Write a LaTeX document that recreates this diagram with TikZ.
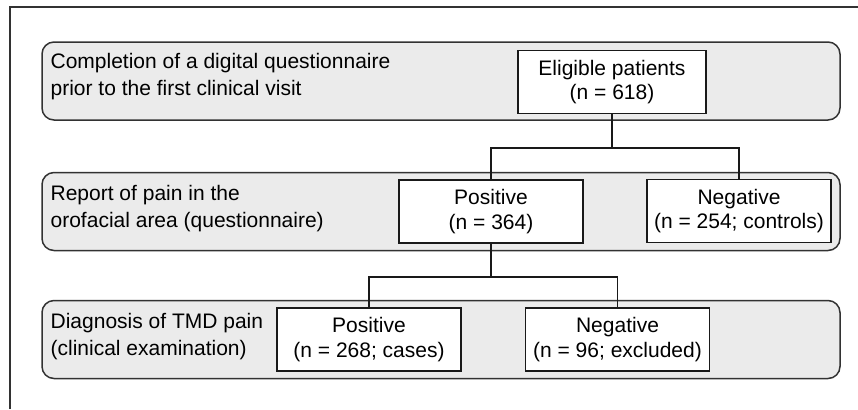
\documentclass[tikz,border=0pt]{standalone}
\usepackage{fontspec}
\setmainfont{Liberation Sans}
\usepackage{xcolor}
\definecolor{bandfill}{RGB}{235,235,235}
\definecolor{bandline}{RGB}{50,50,50}
\definecolor{inkline}{RGB}{25,25,25}

\begin{document}
\begin{tikzpicture}[x=0.5pt,y=-0.5pt,
  band/.style={draw=bandline,fill=bandfill,line width=0.75pt,rounded corners=6pt,
    minimum width=399pt,minimum height=39pt,inner sep=0pt},
  rowlbl/.style={anchor=west,align=left,inner sep=0pt,
    font=\fontsize{10.5}{13.5}\selectfont},
  count/.style={draw=inkline,fill=white,line width=0.7pt,align=center,inner sep=0pt,
    minimum width=92pt,minimum height=31.5pt,font=\fontsize{10.5}{12.3}\selectfont},
  link/.style={line width=0.8pt,inkline},
  frame/.style={line width=0.6pt,bandline}]

\useasboundingbox (0,0) rectangle (858,409);

% outer frame (top and left only)
\draw[frame] (10,409) -- (10,7) -- (858,7);

% the three stages
\node[band] (row1) at (441,81) {};
\node[band] (row2) at (441,211.5) {};
\node[band] (row3) at (441,339.5) {};

\node[rowlbl] (lbl1) at ([xshift=4.5pt,yshift=2pt]row1.west)
  {Completion of a digital questionnaire\\prior to the first clinical visit};
\node[rowlbl] (lbl2) at ([xshift=4.5pt,yshift=1.5pt]row2.west)
  {Report of pain in the\\orofacial area (questionnaire)};
\node[rowlbl] (lbl3) at ([xshift=4.5pt,yshift=1.5pt]row3.west)
  {Diagnosis of TMD pain\\(clinical examination)};

% counts
\node[count,minimum width=94pt] (elig) at (612,82) {Eligible patients\\(n = 618)};
\node[count] (pos1) at (491,211.5) {Positive\\(n = 364)};
\node[count] (neg1) at (739,211) {Negative\\(n = 254; controls)};
\node[count] (pos2) at (369,339.5) {Positive\\(n = 268; cases)};
\node[count] (neg2) at (617.5,339.5) {Negative\\(n = 96; excluded)};

% tree links
\draw[link] (elig.south) -- ++(0,34) -| (pos1.north);
\draw[link] (elig.south) -- ++(0,34) -| (neg1.north);
\draw[link] (pos1.south) -- ++(0,33) -| (pos2.north);
\draw[link] (pos1.south) -- ++(0,33) -| (neg2.north);

\end{tikzpicture}
\end{document}
